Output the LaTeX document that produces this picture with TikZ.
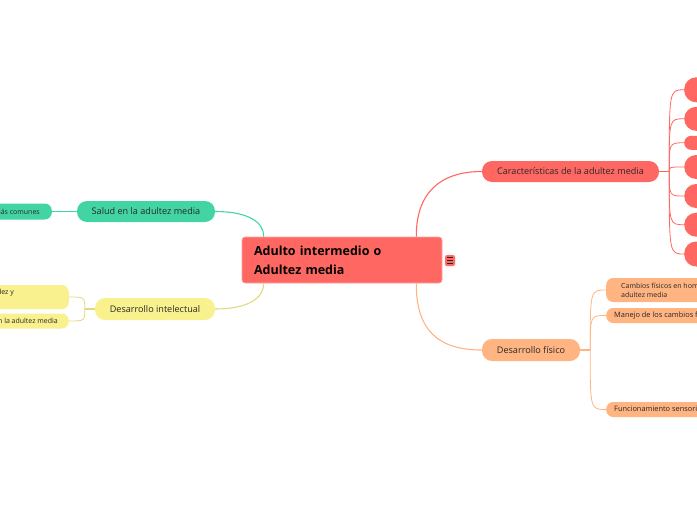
\documentclass[tikz,border=0pt]{standalone}
\usepackage{fontspec}
\setmainfont{Open Sans}
\definecolor{cred}{RGB}{255,104,98}
\definecolor{cpeach}{RGB}{255,180,130}
\definecolor{cgreen}{RGB}{66,213,163}
\definecolor{cyellow}{RGB}{249,241,142}
\definecolor{ctext}{RGB}{40,40,40}
\begin{document}
\begin{tikzpicture}[x=1pt,y=1pt,
  root/.style={fill=cred, draw=cred!60!white, line width=0.6pt, rounded corners=3pt,
    minimum width=200pt, minimum height=46pt, text width=176pt, align=left,
    font=\bfseries\fontsize{12.5}{19}\selectfont, inner sep=0pt, text=black},
  main/.style={rounded corners=10pt, minimum height=21pt, inner sep=0pt,
    font=\fontsize{9.1}{11}\selectfont, text=ctext},
  sub/.style={rounded corners=7pt, inner ysep=0pt, font=\fontsize{7.4}{9}\selectfont, text=ctext},
  circ/.style={fill=cred, minimum width=40pt, inner sep=0pt, anchor=west},
  link/.style={line width=1.1pt}
]
\useasboundingbox (0,0) rectangle (697,-520);
\clip (0,0) rectangle (697,-520);

% central
\node[root] (c) at (342,-260) {Adulto intermedio o\\Adultez media};
\node[fill=cred, draw=cred!60!white, line width=0.4pt, rounded corners=1.5pt, minimum width=10pt, minimum height=11pt, inner sep=0pt] (icon) at (450,-260.5) {};
\draw[line width=0.8pt, black!85] ([xshift=-3pt,yshift=3pt]icon.center) -- ([xshift=3pt,yshift=3pt]icon.center)
  ([xshift=-3pt]icon.center) -- ([xshift=3pt]icon.center)
  ([xshift=-3pt,yshift=-3pt]icon.center) -- ([xshift=3pt,yshift=-3pt]icon.center);

\coordinate (ctr) at ([xshift=-26pt]c.north east);
\coordinate (cbr) at ([xshift=-26pt]c.south east);
\coordinate (ctl) at ([xshift=22pt]c.north west);
\coordinate (cbl) at ([xshift=22pt]c.south west);

% level 1
\node[main, fill=cred, minimum width=177pt] (car) at (570.5,-171.5) {Características de la adultez media};
\node[main, fill=cpeach, minimum width=98pt, minimum height=22pt] (fis) at (531,-350) {Desarrollo físico};
\node[main, fill=cgreen, minimum width=138pt] (sal) at (146,-211.5) {Salud en la adultez media};
\node[main, fill=cyellow, minimum width=120pt, minimum height=22pt] (int) at (155,-309) {Desarrollo intelectual};

% level 1 connectors
\draw[link, cred] (ctr) .. controls (416,-195) and (438,-171.5) .. (car.west);
\draw[link, cpeach] (cbr) .. controls (416,-330) and (438,-350) .. (fis.west);
\draw[link, cgreen] (ctl) .. controls (264,-222) and (248,-211.5) .. (sal.east);
\draw[link, cyellow!90!black] (cbl) .. controls (264,-298) and (248,-309) .. (int.east);

% circles on the right
\node[circ, minimum height=25pt, rounded corners=12pt] (r1) at (684,-89.8) {};
\node[circ, minimum height=24pt, rounded corners=12pt] (r2) at (684,-118.8) {};
\node[circ, minimum height=14pt, rounded corners=7pt] (r3) at (684,-142.8) {};
\node[circ, minimum height=24pt, rounded corners=12pt] (r4) at (684,-167) {};
\node[circ, minimum height=24pt, rounded corners=12pt] (r5) at (684,-196) {};
\node[circ, minimum height=24pt, rounded corners=12pt] (r6) at (684,-224.7) {};
\node[circ, minimum height=25pt, rounded corners=12pt] (r7) at (684,-254) {};
\coordinate (cj) at ([xshift=10pt]car.east);
\draw[link, cred] (car.east) -- (cj);
\foreach \r in {r1,r2,r3,r4,r5,r6,r7}{
  \draw[line width=0.8pt, cred] (cj) .. controls (cj |- \r.west) .. (\r.west);
}

% Desarrollo fisico children
\node[sub, fill=cpeach, anchor=west, minimum height=24pt, inner xsep=15pt, align=left, font=\fontsize{7}{9}\selectfont] (f1) at (606,-290)
  {Cambios físicos en hombres y mujeres en la\\adultez media};
\node[sub, fill=cpeach, anchor=west, minimum height=15pt, inner xsep=8pt] (f2) at (606,-315.5)
  {Manejo de los cambios físicos};
\node[sub, fill=cpeach, anchor=west, minimum height=15pt, inner xsep=8pt] (f3) at (606,-409.5)
  {Funcionamiento sensorial y psicomotor};
\coordinate (fj) at ([xshift=10pt]fis.east);
\draw[link, cpeach] (fis.east) -- (fj);
\foreach \r in {f1,f2,f3}{
  \draw[line width=0.8pt, cpeach] (fj) .. controls (fj |- \r.west) .. (\r.west);
}

% Salud child
\node[sub, fill=cgreen, anchor=east, minimum height=16pt, inner xsep=12pt, font=\fontsize{7}{9}\selectfont] (s1) at (52,-211.5)
  {Enfermedades más comunes};
\draw[link, cgreen] (sal.west) -- (s1.east);

% Desarrollo intelectual children
\node[sub, fill=cyellow, anchor=east, minimum height=24pt, inner xsep=10pt, align=right, font=\fontsize{7}{9}\selectfont] (i1) at (69,-297)
  {Cambios en la inteligencia, rapidez y\rule{45pt}{0pt}\\precisión\rule{120pt}{0pt}};
\node[sub, fill=cyellow, anchor=east, minimum height=15pt, inner xsep=11pt, font=\fontsize{7}{9}\selectfont] (i2) at (69,-321)
  {Creatividad en la adultez media};
\coordinate (ij) at ([xshift=-10pt]int.west);
\draw[link, cyellow!90!black] (int.west) -- (ij);
\foreach \r in {i1,i2}{
  \draw[line width=0.8pt, cyellow!90!black] (ij) .. controls (ij |- \r.east) .. (\r.east);
}
\end{tikzpicture}
\end{document}
